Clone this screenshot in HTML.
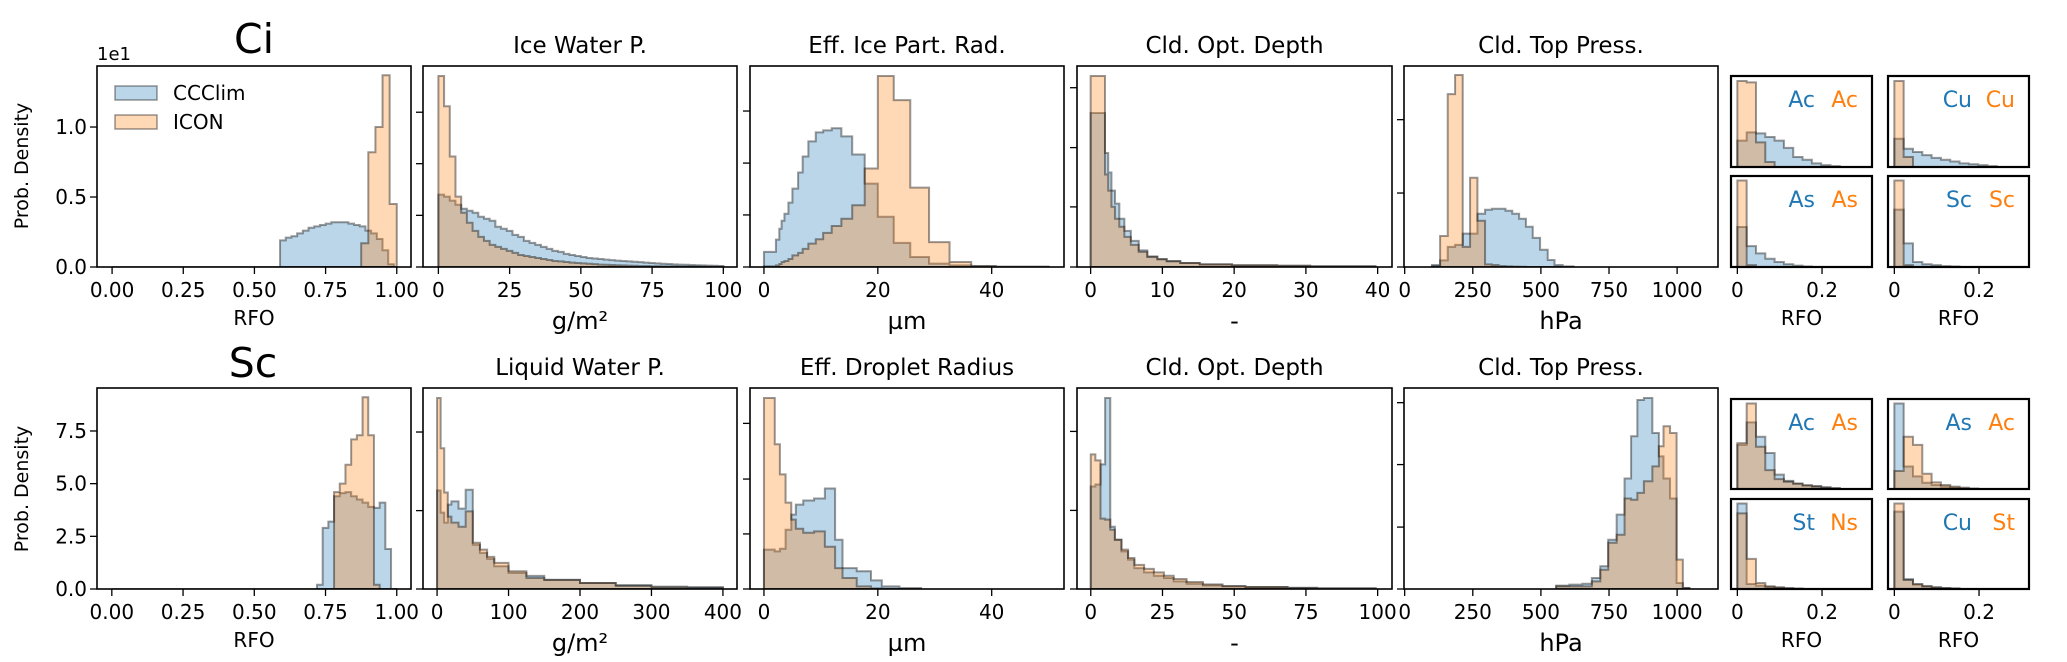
<!DOCTYPE html>
<html><head><meta charset="utf-8">
<style>
html,body{margin:0;padding:0;background:#fff;}
svg{display:block;font-family:"DejaVu Sans","Liberation Sans",sans-serif;}
</style></head>
<body>
<svg id="fig" width="2067" height="662" viewBox="0 0 2067 662" xmlns="http://www.w3.org/2000/svg"></svg>
<script>
// ===== DATA =====
// Row 1 (Ci)
const ciRfoEdgesB=[0.59,0.61,0.63,0.65,0.67,0.69,0.71,0.73,0.75,0.77,0.79,0.81,0.83,0.85,0.87,0.89,0.91,0.93,0.95,0.97,0.99];
const ciRfoCCClim=[1.9,2.1,2.2,2.4,2.6,2.8,2.9,3.0,3.1,3.2,3.2,3.2,3.1,3.0,2.9,2.6,2.4,2.0,1.2,0.2];
const ciRfoEdgesO=[0.875,0.9,0.925,0.95,0.975,1.0];
const ciRfoICON=[1.7,8.2,10,13.7,4.5];

const iwpEdges=[0,2,4,6,8,10,12,14,16,18,20,22,24,26,28,30,32,34,36,38,40,42,44,46,48,50,52,54,56,58,60,62,64,66,68,70,72,74,76,78,80,82,84,86,88,90,92,94,96,98,100];
const iwpCCClim=[36,35,33,31,29,28,27,25,24,23,20,19,18,16,15,13,12,11,10,9,8,7.5,6.5,6,5.5,5,4.5,4.2,4,3.7,3.4,3.2,3,2.8,2.6,2.4,2.2,2,1.8,1.6,1.5,1.3,1.2,1.1,1,0.9,0.8,0.7,0.6,0.5];
const iwpICON=[95,80,55,35,27,22,18,15,13,11,10,9,8,7,6,5.5,5,4.5,4,3.5,3,2.8,2.5,2.2,2,1.8,1.6,1.4,1.2,1.1,1,0.9,0.8,0.7,0.6,0.5,0.5,0.4,0.4,0.3,0.3,0.3,0.2,0.2,0.2,0.2,0.1,0.1,0.1,0.1];

const reiEdges=[0,2.1,2.7,3.1,3.6,4.3,5.0,6.0,6.8,7.8,9.1,10.4,11.9,13.6,15.5,17.7,20.0,22.8,25.7,29.0,32.6,36.4,40.7,50];
const reiCCClim=[7.5,13.6,19,23,26.5,32,39,47,55,62.5,67,68,69,65,56,41.5,25,12,5,1.7,0.8,0.3,0.1];
const reiICON=[0.3,0.8,1.5,2.5,3,4,5.8,7,9,11.6,13.8,17,20.4,24,30.7,49,95,83,39.5,12.4,2.5,0.5,0.1];

const codCiEdges=[0,2,2.45,2.9,3.4,4,4.7,5.6,6.7,7.9,9.3,10.6,12.5,15.2,19.7,26,30.6,39.7];
const codCiCCClim=[76.6,56.7,47,38,31.5,24,18,13,8.3,5.3,4,3,2,1.3,0.8,0.6,0.4];
const codCiICON=[95,46,38,30,24,20,15,11,7.5,5,3.8,2.8,2,1.3,0.9,0.6,0.3];

const ctpCiEdges=[100,130,158,185,213,240,267,295,320,345,370,395,420,445,470,497,525,550,580,620];
const ctpCiCCClim=[1,3.3,10,11,16.6,16.6,26.5,28.5,29,29,28,26.5,24,20,14.5,8.6,3.5,1,0.3];
const ctpCiICON=[0.3,15.4,86,95.5,10,44.4,23,1.3,1,0.5,0.3,0.2,0.1,0,0,0,0,0,0];

// Row 2 (Sc)
const scRfoEdgesB=[0.72,0.74,0.76,0.78,0.80,0.82,0.84,0.86,0.88,0.90,0.92,0.94,0.96,0.98,1.00];
const scRfoCCClim=[0.2,2.9,3.2,4.4,4.55,4.6,4.4,4.25,4.1,3.9,3.85,4.1,1.9,0];
const scRfoEdgesO=[0.78,0.80,0.82,0.84,0.86,0.88,0.90,0.92,0.94];
const scRfoICON=[4.6,5.0,5.9,7.1,7.3,9.1,7.3,0.2];

const lwpEdges=[0,5,10,15,20,30,40,50,60,70,80,100,125,150,200,250,300,350,400];
const lwpCCClim=[49,38,33,42,43.6,40,49.4,22,18,15,11.3,8,6.5,4.6,3,2,1.2,1];
const lwpICON=[95,70,48,36,33,31,38.6,23,19.6,16,13,8.8,5.5,4.5,3,1.5,0.8,0.5];

const redEdges=[0,1.9,2.8,3.8,4.8,5.6,6.9,8.8,10.7,12.5,13.8,16.3,18.8,20.7,23.8,27.6];
const redCCClim=[19.6,18.7,20,29.5,37,42,44,45,50,24.5,10.4,8.8,4.3,1.3,0.5];
const redICON=[95,72,57,43,34.5,30,28,28.7,21,10.4,5.5,1.3,0.3,0.1,0];

const codScEdges=[0,1.6,3.4,5,6.8,8.4,10.7,13,15.2,18.6,22,25.5,28.9,33.4,39.1,45.9,53.9,68.6,78.9,99.3];
const codScCCClim=[51,52,62,95,31,24.5,18.7,14.6,10.4,8.3,6.6,5.5,3.8,2.6,1.8,1.3,1,0.6,0.3];
const codScICON=[67,64,35,34.5,29.5,24.5,19.6,15.4,12,10,8.3,6.6,5,3.5,2.3,1.5,1,0.5,0.3];

const ctpScEdges=[556,604,652,687,718,747,778,807,831,854,878,909,933,950,974,998,1021,1045];
const ctpScCCClim=[1.7,2.2,2.6,5.5,11.3,24.5,37,55,76,94,95,77.6,66,55,45,3,0.5];
const ctpScICON=[1.3,1.3,1.3,3.8,9.6,23,27,45,44.4,47.8,53.6,61,71,81,77.6,14.6,0.5];

// Small RFO panels
const smallEdges=[0,0.022,0.044,0.066,0.088,0.11,0.132,0.154,0.176,0.198,0.22,0.242,0.264];
const ciAcB=[29,38,37,33,29,21,11,8,4,2,1,0], ciAcO=[94.5,93,27,5.5,0,0,0,0,0,0,0,0];
const ciCuB=[31,20,16.5,13,10,8,6,4,3,2,1,0], ciCuO=[94.5,11,0,0,0,0,0,0,0,0,0,0];
const ciAsB=[44,23,15,9,5.5,3,1.5,0.5,0,0,0,0], ciAsO=[95,2,0,0,0,0,0,0,0,0,0,0];
const ciScB=[63,26,5.5,3,2,1,0.5,0,0,0,0,0], ciScO=[95,2,0,0,0,0,0,0,0,0,0,0];
const scAcAsB=[49,74,58,40,16,9,6,4,3.3,2,1,0], scAcAsO=[51,95,47,21,11,8,6,4,2.6,1.5,0.5,0];
const scAsAcB=[95,25,14,7,4.4,2.6,1.5,0.5,0,0,0,0], scAsAcO=[20,58,49,17,7.4,4.4,2.6,1.5,0.5,0,0,0];
const scStNsB=[95,5.5,3.7,2.2,1.5,0.8,0.4,0,0,0,0,0], scStNsO=[84,33.5,6.6,3,1.8,0.8,0.3,0,0,0,0,0];
const scCuStB=[86,11,4.8,3,1.8,1,0.5,0,0,0,0,0], scCuStO=[95,10,5.5,3,1.8,1,0.5,0,0,0,0,0];

// Ticks
const rfoTicks=[0,0.25,0.5,0.75,1.0], rfoTickLabels=["0.00","0.25","0.50","0.75","1.00"];
const ciYTicks=[0,5,10], ciYTickLabels=["0.0","0.5","1.0"];
const scYTicks=[0,2.5,5,7.5], scYTickLabels=["0.0","2.5","5.0","7.5"];

// ===== DRAWING =====
const svg=document.getElementById('fig');
const NS='http://www.w3.org/2000/svg';
function el(tag,attrs,parent){const e=document.createElementNS(NS,tag);for(const k in attrs)e.setAttribute(k,attrs[k]);(parent||svg).appendChild(e);return e;}
function txt(s,attrs,parent){const e=el('text',attrs,parent);e.textContent=s;return e;}

const BLUE='#1f77b4', ORANGE='#ff7f0e';
let clipId=0;

function panel(cfg){
  const g=el('g',{});
  
  
  const {x,y,w,h,xmin,xmax,ymax}=cfg;
  const sx=v=>x+(v-xmin)/(xmax-xmin)*w;
  const sy=v=>y+h-(v/ymax)*h;
  const cid='clip'+(clipId++);
  const cp=el('clipPath',{id:cid},g); el('rect',{x:x,y:y,width:w,height:h},cp);
  const hg=el('g',{'clip-path':'url(#'+cid+')'},g);
  function hist(edges,vals,color,nm){
    let d='M'+sx(edges[0])+','+sy(0);
    for(let i=0;i<vals.length;i++){d+=' L'+sx(edges[i])+','+sy(vals[i])+' L'+sx(edges[i+1])+','+sy(vals[i]);}
    d+=' L'+sx(edges[vals.length])+','+sy(0)+' Z';
    const p=el('path',{d:d,fill:color,'fill-opacity':0.3,stroke:'#000','stroke-opacity':0.4,'stroke-width':2,'stroke-linejoin':'miter'},hg);
    
    
  }
  if(cfg.base){el('line',{x1:sx(cfg.base[0]),x2:sx(cfg.base[1]),y1:sy(0),y2:sy(0),stroke:'#000','stroke-opacity':0.3,'stroke-width':2},hg);}
  hist(cfg.eB,cfg.b,BLUE,'ccclim-histogram');
  hist(cfg.eO,cfg.o,ORANGE,'icon-histogram');
  const fr=el('rect',{x:x,y:y,width:w,height:h,fill:'none',stroke:'#000','stroke-width':cfg.small?2.2:1.6},g);
  
  
  if(cfg.xt){cfg.xt.forEach((t,i)=>{
    const X=sx(t);
    el('line',{x1:X,x2:X,y1:y+h,y2:y+h+7,stroke:'#000','stroke-width':1.3},g);
    const tl=txt(cfg.xtl[i],{x:X,y:y+h+30,'font-size':20,'text-anchor':'middle',fill:'#000'},g);
    
    
  });}
  if(cfg.yt){cfg.yt.forEach((t,i)=>{
    const Y=sy(t);
    el('line',{x1:x-7,x2:x,y1:Y,y2:Y,stroke:'#000','stroke-width':1.3},g);
    if(cfg.ytl){const tl=txt(cfg.ytl[i],{x:x-10,y:Y+7,'font-size':20,'text-anchor':'end',fill:'#000'},g);
      
      }
  });}
  if(cfg.title){const t=txt(cfg.title,{x:x+w/2,y:y-13,'font-size':23,'text-anchor':'middle',fill:'#000'},g);
    
    }
  if(cfg.xlabel){const t=txt(cfg.xlabel,{x:x+w/2,y:y+h+(cfg.xlabelBig?62:58),'font-size':cfg.xlabelBig?24:20,'text-anchor':'middle',fill:'#000'},g);
    
    }
  if(cfg.lab){
    const a=txt(cfg.lab[0],{x:x+w-57,y:y+31,'font-size':22,'text-anchor':'end',fill:BLUE},g);
    
    
    const b=txt(cfg.lab[1],{x:x+w-14,y:y+31,'font-size':22,'text-anchor':'end',fill:ORANGE},g);
    
    
  }
  return g;
}

const PX=[[97,411],[423,737],[750,1064],[1077,1392],[1404,1718]];
const R1={y:66,h:201}, R2={y:388,h:201};
function P(i,r){return {x:PX[i][0],w:PX[i][1]-PX[i][0],y:r.y,h:r.h};}

panel(Object.assign(P(0,R1),{name:'ci-rfo-panel',xmin:-0.053,xmax:1.05,ymax:14.36,eB:ciRfoEdgesB,b:ciRfoCCClim,eO:ciRfoEdgesO,o:ciRfoICON,base:[0,1],xt:rfoTicks,xtl:rfoTickLabels,yt:ciYTicks,ytl:ciYTickLabels,xlabel:'RFO'}));
panel(Object.assign(P(1,R1),{name:'ci-ice-water-path-panel',xmin:-5.4,xmax:104.8,ymax:100,eB:iwpEdges,b:iwpCCClim,eO:iwpEdges,o:iwpICON,xt:[0,25,50,75,100],xtl:["0","25","50","75","100"],yt:[0,25.7,51.4,77],title:'Ice Water P.',xlabel:'g/m²',xlabelBig:true}));
panel(Object.assign(P(2,R1),{name:'ci-ice-radius-panel',xmin:-2.45,xmax:52.7,ymax:100,eB:reiEdges,b:reiCCClim,eO:reiEdges,o:reiICON,xt:[0,20,40],xtl:["0","20","40"],yt:[0,25.9,51.7,77.6],title:'Eff. Ice Part. Rad.',xlabel:'µm',xlabelBig:true}));
panel(Object.assign(P(3,R1),{name:'ci-optical-depth-panel',xmin:-1.9,xmax:42,ymax:100,eB:codCiEdges,b:codCiCCClim,eO:codCiEdges,o:codCiICON,xt:[0,10,20,30,40],xtl:["0","10","20","30","40"],yt:[0,29.9,59.4,89.2],title:'Cld. Opt. Depth',xlabel:'-',xlabelBig:true}));
panel(Object.assign(P(4,R1),{name:'ci-top-pressure-panel',xmin:-2.5,xmax:1150,ymax:100,eB:ctpCiEdges,b:ctpCiCCClim,eO:ctpCiEdges,o:ctpCiICON,xt:[0,250,500,750,1000],xtl:["0","250","500","750","1000"],yt:[0,36.8,73.3],title:'Cld. Top Press.',xlabel:'hPa',xlabelBig:true}));

panel(Object.assign(P(0,R2),{name:'sc-rfo-panel',xmin:-0.052,xmax:1.05,ymax:9.54,eB:scRfoEdgesB,b:scRfoCCClim,eO:scRfoEdgesO,o:scRfoICON,base:[0,1],xt:rfoTicks,xtl:rfoTickLabels,yt:scYTicks,ytl:scYTickLabels,xlabel:'RFO'}));
panel(Object.assign(P(1,R2),{name:'sc-liquid-water-path-panel',xmin:-19.7,xmax:419.7,ymax:100,eB:lwpEdges,b:lwpCCClim,eO:lwpEdges,o:lwpICON,xt:[0,100,200,300,400],xtl:["0","100","200","300","400"],yt:[0,39,78.1],title:'Liquid Water P.',xlabel:'g/m²',xlabelBig:true}));
panel(Object.assign(P(2,R2),{name:'sc-droplet-radius-panel',xmin:-2.45,xmax:52.7,ymax:100,eB:redEdges,b:redCCClim,eO:redEdges,o:redICON,xt:[0,20,40],xtl:["0","20","40"],yt:[0,27.4,54.7,82.4],title:'Eff. Droplet Radius',xlabel:'µm',xlabelBig:true}));
panel(Object.assign(P(3,R2),{name:'sc-optical-depth-panel',xmin:-4.8,xmax:105,ymax:100,eB:codScEdges,b:codScCCClim,eO:codScEdges,o:codScICON,xt:[0,25,50,75,100],xtl:["0","25","50","75","100"],yt:[0,39.1,78.4],title:'Cld. Opt. Depth',xlabel:'-',xlabelBig:true}));
panel(Object.assign(P(4,R2),{name:'sc-top-pressure-panel',xmin:-2.5,xmax:1150,ymax:100,eB:ctpScEdges,b:ctpScCCClim,eO:ctpScEdges,o:ctpScICON,xt:[0,250,500,750,1000],xtl:["0","250","500","750","1000"],yt:[0,30.8,61.9,92.7],title:'Cld. Top Press.',xlabel:'hPa',xlabelBig:true}));

const SX=[[1731,1872],[1888,2029]];
function S(c,y0,y1){return {x:SX[c][0],w:SX[c][1]-SX[c][0],y:y0,h:y1-y0,small:true,xmin:-0.015,xmax:0.318,ymax:100};}
const rfoSmallTicks=[0,0.2], rfoSmallLabels=["0","0.2"];
panel(Object.assign(S(0,76,167),{name:'ci-ac-ac-panel',eB:smallEdges,b:ciAcB,eO:smallEdges,o:ciAcO,lab:['Ac','Ac']}));
panel(Object.assign(S(1,76,167),{name:'ci-cu-cu-panel',eB:smallEdges,b:ciCuB,eO:smallEdges,o:ciCuO,lab:['Cu','Cu']}));
panel(Object.assign(S(0,176,267),{name:'ci-as-as-panel',eB:smallEdges,b:ciAsB,eO:smallEdges,o:ciAsO,lab:['As','As'],xt:rfoSmallTicks,xtl:rfoSmallLabels,xlabel:'RFO'}));
panel(Object.assign(S(1,176,267),{name:'ci-sc-sc-panel',eB:smallEdges,b:ciScB,eO:smallEdges,o:ciScO,lab:['Sc','Sc'],xt:rfoSmallTicks,xtl:rfoSmallLabels,xlabel:'RFO'}));
panel(Object.assign(S(0,399,489),{name:'sc-ac-as-panel',eB:smallEdges,b:scAcAsB,eO:smallEdges,o:scAcAsO,lab:['Ac','As']}));
panel(Object.assign(S(1,399,489),{name:'sc-as-ac-panel',eB:smallEdges,b:scAsAcB,eO:smallEdges,o:scAsAcO,lab:['As','Ac']}));
panel(Object.assign(S(0,499,589),{name:'sc-st-ns-panel',eB:smallEdges,b:scStNsB,eO:smallEdges,o:scStNsO,lab:['St','Ns'],xt:rfoSmallTicks,xtl:rfoSmallLabels,xlabel:'RFO'}));
panel(Object.assign(S(1,499,589),{name:'sc-cu-st-panel',eB:smallEdges,b:scCuStB,eO:smallEdges,o:scCuStO,lab:['Cu','St'],xt:rfoSmallTicks,xtl:rfoSmallLabels,xlabel:'RFO'}));

function ft(s,name,attrs){const t=txt(s,attrs);return t;}
ft('Ci','row-title-ci',{x:254,y:53,'font-size':41,'text-anchor':'middle',fill:'#000'});
ft('Sc','row-title-sc',{x:253,y:377,'font-size':41,'text-anchor':'middle',fill:'#000'});
ft('1e1','y-offset-label',{x:97,y:60,'font-size':18,fill:'#000'});
ft('Prob. Density','y-axis-title-ci',{x:0,y:0,'font-size':19,'text-anchor':'middle',fill:'#000',transform:'translate(28,166) rotate(-90)'});
ft('Prob. Density','y-axis-title-sc',{x:0,y:0,'font-size':19,'text-anchor':'middle',fill:'#000',transform:'translate(28,489) rotate(-90)'});

const lg=el('g',{});


[['CCClim',BLUE,86],['ICON',ORANGE,115]].forEach(([lbl,c,yy])=>{
  const r=el('rect',{x:115,y:yy,width:42,height:14,fill:c,'fill-opacity':0.3,stroke:'#000','stroke-opacity':0.4,'stroke-width':1.5},lg);
  
  
  const t=txt(lbl,{x:173,y:yy+14,'font-size':20,fill:'#000'},lg);
  
  
});
</script>
</body></html>
